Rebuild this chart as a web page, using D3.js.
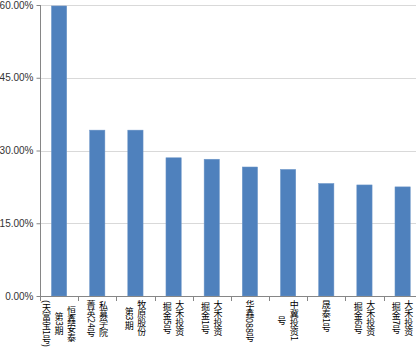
<!DOCTYPE html>
<html>
<head>
<meta charset="utf-8">
<script src="https://cdnjs.cloudflare.com/ajax/libs/d3/7.8.5/d3.min.js"></script>
<style>
  body { margin: 0; background: #fff; }
  svg { display: block; }
</style>
</head>
<body>
<div id="chart"></div>
<script>
'use strict';

// data
var funds = [
    ['恒鑫安泰', '第3期', '(天富宝1号)'],
    ['私募学院', '菁英24号'],
    ['牧原股份', '第3期'],
    ['大禾投资', '掘金5号'],
    ['大禾投资', '掘金1号'],
    ['华鑫088号'],
    ['中冀投资1', '号'],
    ['晟泰1号'],
    ['大禾投资', '掘金6号'],
    ['大禾投资', '掘金7号']
];
var returns = [0.598, 0.342, 0.342, 0.285, 0.282, 0.266, 0.261, 0.232, 0.229, 0.225];
var yTicks = [0, 0.15, 0.30, 0.45, 0.60];

var chart = {};
chart.w = 416;
chart.h = 349;
chart.left = 40;
chart.right = 421.7;
chart.top = 5;
chart.bottom = 296;

var svg = d3.select('#chart').append('svg')
    .attr('width', chart.w)
    .attr('height', chart.h);

var x = d3.scaleBand()
    .domain(d3.range(returns.length))
    .range([chart.left, chart.right])
    .paddingInner(0.6)
    .paddingOuter(0.3);

var y = d3.scaleLinear()
    .domain([0, 0.6])
    .range([chart.bottom, chart.top]);

// gridlines
svg.append('g')
    .selectAll('line')
    .data(yTicks.slice(1))
    .enter()
    .append('line')
    .attr('x1', chart.left)
    .attr('x2', chart.w)
    .attr('y1', function(d){ return Math.round(y(d)) + 0.5; })
    .attr('y2', function(d){ return Math.round(y(d)) + 0.5; })
    .style('stroke', '#d9d9d9');

// y axis
var yAxis = d3.axisLeft(y)
    .tickValues(yTicks)
    .tickSize(4)
    .tickPadding(3)
    .tickFormat(function(d){ return (d * 100).toFixed(2) + '%'; });

var gy = svg.append('g')
    .attr('transform', 'translate(' + (chart.left + 0.5) + ',0)')
    .call(yAxis);
gy.select('.domain').attr('d', 'M0,' + chart.top + 'V' + chart.bottom).style('stroke', '#868686');
gy.selectAll('.tick line').style('stroke', '#868686');
gy.selectAll('.tick text')
    .style('font-family', '"Liberation Sans", Arial, sans-serif')
    .style('font-size', '10px')
    .style('fill', '#333');

// bars
svg.append('g')
    .selectAll('rect')
    .data(returns)
    .enter()
    .append('rect')
    .attr('x', function(d, i){ return x(i); })
    .attr('y', function(d){ return y(d); })
    .attr('width', x.bandwidth())
    .attr('height', function(d){ return chart.bottom - y(d); })
    .style('fill', '#4f81bd')
    .style('stroke', '#6d96c8')
    .style('stroke-width', 0.5);

// x axis line + ticks at category edges
var gx = svg.append('g');
gx.append('line')
    .attr('x1', chart.left)
    .attr('x2', chart.w)
    .attr('y1', chart.bottom + 0.5)
    .attr('y2', chart.bottom + 0.5)
    .style('stroke', '#868686');
gx.selectAll('.xt')
    .data(d3.range(returns.length + 1))
    .enter()
    .append('line')
    .attr('class', 'xt')
    .attr('x1', function(i){ return Math.round(chart.left + i * x.step()) + 0.5; })
    .attr('x2', function(i){ return Math.round(chart.left + i * x.step()) + 0.5; })
    .attr('y1', chart.bottom)
    .attr('y2', chart.bottom + 5)
    .style('stroke', '#868686');

// vertical category labels: CJK runs upright (one text, a position per glyph),
// digits/brackets turned sideways; lines stacked right to left, centred on the longest
var lineGap = 12.5;
var labelTop = 300;
var fs = 9;
var isCjk = /[\u3000-\u9fff\uff00-\uffef]/;

function drawLine(g, str, cx){
    var pos = 0;
    var runs = str.match(/[\u3000-\u9fff\uff00-\uffef]+|[^\u3000-\u9fff\uff00-\uffef]+/g);
    runs.forEach(function(r){
        var t = g.append('text')
            .attr('dominant-baseline', 'central')
            .style('font-family', '"Noto Sans CJK SC", sans-serif')
            .style('font-size', fs + 'px')
            .style('fill', '#000')
            .text(r);
        if (isCjk.test(r)) {
            var chars = Array.from(r);
            t.attr('x', chars.map(function(){ return cx; }).join(' '))
             .attr('y', chars.map(function(c, j){ return pos + fs * j + fs / 2; }).join(' '))
             .attr('text-anchor', 'middle');
            pos += fs * chars.length;
        } else {
            t.attr('x', 0)
             .attr('y', 0)
             .attr('transform', 'translate(' + cx + ',' + pos + ') rotate(90)');
            pos += t.node().getComputedTextLength();
        }
    });
    return pos;
}

funds.forEach(function(lines, i){
    var cx = x(i) + x.bandwidth() / 2;
    var mid = (lines.length - 1) / 2;
    var groups = [];
    var lens = [];
    lines.forEach(function(str, k){
        var g = svg.append('g');
        lens.push(drawLine(g, str, cx + (mid - k) * lineGap));
        groups.push(g);
    });
    var maxLen = d3.max(lens);
    groups.forEach(function(g, k){
        g.attr('transform', 'translate(0,' + (labelTop + (maxLen - lens[k]) / 2) + ')');
    });
});
</script>
</body>
</html>
